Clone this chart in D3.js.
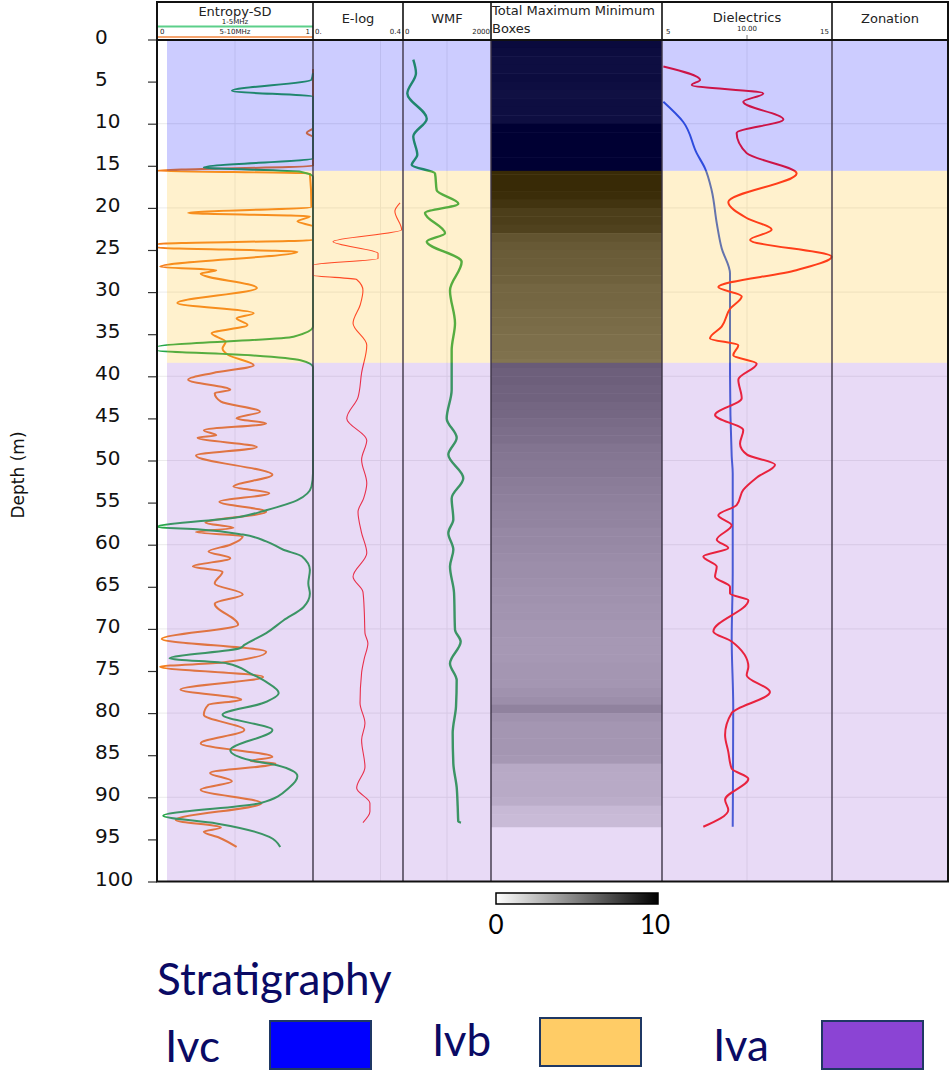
<!DOCTYPE html>
<html>
<head>
<meta charset="utf-8">
<script src="https://cdn.jsdelivr.net/npm/d3@7"></script>
<style>
  body { margin: 0; background: #fff; }
  svg { display: block; }
</style>
</head>
<body>
<svg id="chart" width="950" height="1071"></svg>
<script>
// ---------------- data ----------------
const depthTicks = d3.range(0, 101, 5);

// stratigraphic units
const unitNames = ["Ivc", "Ivb", "Iva"];
const unitTops = [0, 15.6, 38.4];
const unitBases = [15.6, 38.4, 100];

// Entropy-SD, 1-5MHz band (0..1)
const entLowDepth = [4.0, 4.8, 6.1, 6.8, 14.1, 15.2, 15.7, 16.3, 34.1, 35.3, 36.5, 36.9, 37.5, 38.1, 38.9,
  51.5, 53.1, 54.7, 55.9, 56.7, 57.9, 58.2, 58.8, 59.6, 60.6, 61.4, 63.0, 64.6, 65.8, 67.4, 69.0, 70.5,
  71.9, 72.3, 73.5, 74.1, 75.3, 76.3, 77.6, 78.8, 80.2, 82.0, 84.4, 85.6, 86.2, 87.5, 88.8, 90.7, 92.2,
  93.1, 94.7, 95.9];
const entLowValue = [1.0, 0.99, 0.48, 1.0, 1.0, 0.30, 0.92, 1.0, 1.0, 0.875, 0.0, 0.0, 0.60, 0.92, 1.0,
  1.0, 0.99, 0.90, 0.70, 0.53, 0.0, 0.275, 0.55, 0.70, 0.81, 0.93, 0.98, 0.97, 0.98, 0.94, 0.81, 0.70,
  0.56, 0.53, 0.08, 0.45, 0.60, 0.70, 0.78, 0.68, 0.42, 0.74, 0.47, 0.60, 0.77, 0.90, 0.85, 0.66, 0.04,
  0.38, 0.72, 0.79];

// Entropy-SD, 5-10MHz band (0..1)
const entHighDepth = [3.5, 10.5, 11.1, 11.6, 15.0, 15.6, 15.9, 19.9, 20.6, 21.0, 21.6, 22.2, 23.8, 24.3, 24.7,
  25.2, 27.0, 27.4, 27.8, 29.5, 31.3, 32.5, 33.1, 33.9, 34.9, 35.9, 36.7, 37.5, 38.7, 39.6, 40.4, 41.6,
  42.0, 43.0, 44.2, 45.0, 45.6, 46.4, 47.0, 47.3, 48.4, 49.4, 51.7, 53.1, 53.9, 54.9, 56.1, 57.4, 58.0,
  58.5, 59.0, 60.0, 60.8, 61.6, 62.6, 63.2, 64.6, 65.9, 67.0, 69.5, 71.2, 72.7, 74.0, 74.5, 75.7, 77.2,
  78.4, 79.0, 80.2, 82.0, 83.6, 85.2, 85.7, 86.0, 87.1, 88.1, 89.1, 90.7, 92.7, 93.6, 94.1, 94.8, 95.9];
const entHighValue = [1.0, 1.0, 0.96, 1.0, 1.0, 0.0, 0.98, 0.99, 0.20, 0.98, 0.90, 1.0, 1.0, 0.0, 0.0,
  0.90, 0.02, 0.38, 0.28, 0.64, 0.13, 0.62, 0.51, 0.58, 0.35, 0.44, 0.42, 0.46, 0.62, 0.36, 0.20, 0.47,
  0.37, 0.41, 0.66, 0.51, 0.70, 0.30, 0.38, 0.26, 0.64, 0.25, 0.74, 0.49, 0.72, 0.40, 0.70, 0.31, 0.49,
  0.25, 0.55, 0.47, 0.33, 0.47, 0.23, 0.42, 0.37, 0.55, 0.37, 0.52, 0.03, 0.70, 0.42, 0.02, 0.68, 0.15,
  0.54, 0.33, 0.30, 0.56, 0.28, 0.74, 0.60, 0.76, 0.34, 0.48, 0.28, 0.67, 0.12, 0.41, 0.30, 0.40, 0.51];

// E-log (0..0.4)
const elogDepth = [19.4, 20.4, 22.6, 24.0, 25.4, 26.0, 26.8, 28.0, 28.5, 29.8, 31.5, 33.7, 36.3, 39.6, 42.5,
  45.0, 47.6, 49.9, 52.7, 54.5, 56.1, 58.5, 61.0, 63.8, 65.6, 68.0, 70.5, 71.7, 73.5, 75.2, 78.8, 81.2,
  83.2, 86.4, 88.9, 90.7, 91.7, 93.0];
const elogValue = [0.387, 0.364, 0.394, 0.089, 0.289, 0.289, 0.0, 0.0, 0.194, 0.222, 0.21, 0.178, 0.239,
  0.216, 0.20, 0.150, 0.239, 0.216, 0.239, 0.225, 0.200, 0.215, 0.239, 0.178, 0.222, 0.228, 0.231, 0.244,
  0.228, 0.216, 0.209, 0.231, 0.216, 0.231, 0.194, 0.253, 0.253, 0.222];

// WMF (0..2000)
const wmfDepth = [2.4, 4.0, 6.4, 9.4, 11.5, 13.7, 14.9, 15.9, 17.9, 19.5, 20.6, 23.0, 24.0, 26.4, 29.8,
  33.7, 36.9, 41.6, 45.0, 47.3, 49.3, 52.1, 54.5, 57.0, 58.6, 60.6, 62.6, 65.7, 70.1, 71.5, 74.1, 76.1,
  79.2, 82.4, 86.0, 88.8, 91.1, 92.9, 93.0];
const wmfValue = [234, 295, 98, 540, 234, 325, 198, 727, 766, 1257, 500, 954, 540, 1333, 1068,
  1182, 1106, 1106, 993, 1220, 1030, 1370, 1106, 1144, 1030, 1144, 1068, 1160, 1182, 1311, 1068, 1220,
  1205, 1129, 1144, 1220, 1243, 1257, 1318];

// Dielectrics (5..15), two curves
const dielRedDepth = [3.2, 4.8, 5.4, 6.4, 7.4, 9.5, 11.1, 13.5, 15.9, 19.3, 21.2, 22.6, 23.8, 25.8, 27.4,
  29.4, 30.5, 32.0, 34.1, 35.5, 36.3, 37.5, 38.5, 40.4, 42.6, 44.6, 46.4, 48.0, 49.3, 50.5, 52.0, 53.5,
  55.3, 56.5, 57.7, 59.4, 60.4, 61.4, 62.6, 63.8, 65.0, 65.8, 66.6, 70.3, 71.5, 74.5, 75.5, 77.5, 80.0,
  82.6, 84.6, 86.6, 87.8, 90.3, 91.5, 93.5];
const dielRedValue = [5.08, 7.24, 6.75, 10.96, 9.78, 12.14, 9.39, 9.98, 12.92, 8.90, 9.98, 11.45, 10.18,
  14.98, 12.90, 8.31, 9.69, 9.00, 8.51, 7.82, 9.49, 9.19, 10.57, 9.49, 9.69, 8.12, 9.78, 9.59, 10.0,
  11.65, 10.6, 9.78, 9.39, 8.31, 9.10, 8.22, 8.90, 7.43, 8.22, 8.12, 9.00, 9.00, 10.08, 8.02, 9.10,
  10.08, 9.98, 11.35, 9.10, 8.71, 8.90, 9.10, 10.08, 8.71, 8.90, 7.43];
const dielBlueDepth = [7.4, 9.8, 13.5, 15.3, 17.9, 21.8, 24.8, 27.8, 31.7, 39.6, 49.5, 51.5, 63.4, 71.3, 79.2, 93.5];
const dielBlueValue = [5.08, 6.25, 7.04, 7.53, 7.92, 8.22, 8.51, 9.0, 9.0, 9.0, 9.1, 9.16, 9.16, 9.1, 9.19, 9.16];

// Total Maximum Minimum Boxes: one value per 1 m row starting at 0 m (0..10)
const boxValues = [9.5, 9.4, 9.3, 9.3, 9.4, 9.3, 9.2, 9.3, 9.3, 9.3,
  10, 10, 10, 10, 10, 10, 10, 10, 9.8, 9.5,
  9.0, 9.0, 8.8, 7.9, 7.6, 7.5, 7.4, 7.3, 7.2, 7.0,
  7.0, 6.9, 6.8, 6.7, 6.6, 6.5, 6.5, 6.4, 6.2, 6.0,
  6.0, 5.9, 5.9, 5.7, 5.6, 5.4, 5.3, 5.2, 5.0, 4.9,
  4.8, 4.8, 4.6, 4.5, 4.4, 4.3, 4.2, 4.2, 4.0, 4.0,
  3.9, 3.8, 3.7, 3.7, 3.6, 3.5, 3.5, 3.4, 3.4, 3.3,
  3.3, 3.2, 3.2, 3.2, 3.3, 3.3, 3.3, 3.5, 3.7, 4.3,
  3.5, 3.3, 3.3, 3.3, 3.3, 3.2, 2.4, 2.3, 2.3, 2.3,
  2.2, 1.6, 1.5, 1.5];
const boxEnd = 93.5;
const boxDomain = [0, 10];

// ---------------- layout & style ----------------
const svg = d3.select("#chart");
const edges = [157, 313, 403, 491, 662, 832, 948];
const headTop = 2, headBottom = 40;
const y = d3.scaleLinear().domain([0, 100]).range([39.5, 881.5]);
const shadeLeft = 167;
const shadeFill = ["#0000ff", "#ffbf1a", "#8b44d4"];
const shadeOpacity = [0.2, 0.22, 0.2];
const legendFill = ["#0000ff", "#ffcc66", "#8b44d4"];

const xEnt = d3.scaleLinear().domain([0, 1]).range([edges[0], edges[1]]);
const xElog = d3.scaleLinear().domain([0, 0.4]).range([edges[1], edges[2]]);
const xWmf = d3.scaleLinear().domain([0, 2000]).range([edges[2], edges[3]]);
const xDiel = d3.scaleLinear().domain([5, 15]).range([edges[4], edges[5]]);
const grey = d3.scaleLinear().domain(boxDomain).range(["#ffffff", "#000000"]);

const headFont = "'DejaVu Sans', Verdana, sans-serif";
const legendFont = "Lato, 'Open Sans', sans-serif";

svg.append("rect").attr("width", 950).attr("height", 1071).attr("fill", "#fff");

// faint grid
const grid = svg.append("g").attr("stroke", "#ebebeb").attr("stroke-width", 1);
d3.range(10, 100, 10).forEach(d => {
  grid.append("line").attr("x1", edges[0]).attr("x2", edges[6]).attr("y1", y(d)).attr("y2", y(d));
});
[xEnt(0.5), xElog(0.3), xWmf(1000), xDiel(10)].forEach(x => {
  grid.append("line").attr("x1", x).attr("x2", x).attr("y1", y(0)).attr("y2", y(100));
});

// heat column
const heat = svg.append("g");
boxValues.forEach((v, i) => {
  const top = i, bot = Math.min(i + 1, boxEnd);
  if (top >= boxEnd) return;
  heat.append("rect")
    .attr("x", edges[3]).attr("width", edges[4] - edges[3])
    .attr("y", y(top)).attr("height", y(bot) - y(top) + 0.5)
    .attr("fill", grey(v));
});

// curves
function zip(ds, vs) { return ds.map((d, i) => ({ d: d, v: vs[i] })); }
function drawCurve(ds, vs, xs, color, width) {
  const line = d3.line().x(p => xs(p.v)).y(p => y(p.d)).curve(d3.curveMonotoneY);
  svg.append("path").datum(zip(ds, vs)).attr("d", line)
    .attr("fill", "none").attr("stroke", color).attr("stroke-width", width)
    .attr("stroke-linejoin", "round");
}
drawCurve(entHighDepth, entHighValue, xEnt, "#f5801e", 2);
drawCurve(entLowDepth, entLowValue, xEnt, "#27a84a", 2);
drawCurve(elogDepth, elogValue, xElog, "#ff2a2a", 1.1);
drawCurve(wmfDepth, wmfValue, xWmf, "#27a84a", 2.4);
drawCurve(dielBlueDepth, dielBlueValue, xDiel, "#3a5fd6", 2);
drawCurve(dielRedDepth, dielRedValue, xDiel, "#ff1a1a", 2);

// stratigraphic shading
unitNames.forEach((n, i) => {
  svg.append("rect")
    .attr("x", shadeLeft).attr("width", edges[6] - shadeLeft)
    .attr("y", y(unitTops[i])).attr("height", y(unitBases[i]) - y(unitTops[i]))
    .attr("fill", shadeFill[i]).attr("fill-opacity", shadeOpacity[i]);
});

// track separators
edges.slice(1, 6).forEach(x => {
  svg.append("line").attr("x1", x).attr("x2", x).attr("y1", headBottom).attr("y2", y(100))
    .attr("stroke", "#3d3447").attr("stroke-width", 1.4);
});

// depth axis
const axis = d3.axisLeft(y).tickValues(depthTicks).tickSize(9).tickFormat(d3.format("d"));
const axG = svg.append("g").attr("transform", `translate(${edges[0]},0)`).call(axis);
axG.select(".domain").remove();
axG.selectAll(".tick line").attr("stroke", "#333").attr("stroke-width", 1.2);
axG.selectAll(".tick text")
  .attr("x", -62).attr("dy", null).attr("y", 3.5)
  .attr("text-anchor", "start")
  .style("font-family", headFont).style("font-size", "20px").attr("fill", "#111");

svg.append("text")
  .attr("transform", "translate(24,475) rotate(-90)")
  .attr("text-anchor", "middle")
  .style("font-family", headFont).style("font-size", "17px").attr("fill", "#111")
  .text("Depth (m)");

// header
const head = svg.append("g").style("font-family", headFont).attr("fill", "#222");
head.append("rect").attr("x", edges[0]).attr("y", headTop).attr("width", edges[6] - edges[0])
  .attr("height", headBottom - headTop).attr("fill", "#fff");
function headText(x, yy, size, anchor, txt) {
  head.append("text").attr("x", x).attr("y", yy).attr("text-anchor", anchor)
    .style("font-size", size + "px").text(txt);
}
const mid = i => (edges[i] + edges[i + 1]) / 2;
headText(mid(0), 16, 13, "middle", "Entropy-SD");
headText(mid(0), 23.5, 7, "middle", "1-5MHz");
head.append("line").attr("x1", edges[0]).attr("x2", edges[1]).attr("y1", 26.5).attr("y2", 26.5)
  .attr("stroke", "#5ccf8a").attr("stroke-width", 2);
headText(edges[0] + 3, 34, 7, "start", "0");
headText(mid(0), 34, 7, "middle", "5-10MHz");
headText(edges[1] - 3, 34, 7, "end", "1");
head.append("line").attr("x1", edges[0]).attr("x2", edges[1]).attr("y1", 37).attr("y2", 37)
  .attr("stroke", "#f5a46f").attr("stroke-width", 2);

headText(mid(1), 23, 13, "middle", "E-log");
headText(edges[1] + 2, 34, 7, "start", "0.");
headText(edges[2] - 2, 34, 7, "end", "0.4");

headText(mid(2), 23, 13, "middle", "WMF");
headText(edges[2] + 2, 34, 7, "start", "0");
headText(edges[3] - 1, 34, 7, "end", "2000");

headText(edges[3] + 1, 15, 13, "start", "Total Maximum Minimum");
headText(edges[3] + 1, 33, 13, "start", "Boxes");

headText(mid(4), 22, 13, "middle", "Dielectrics");
headText(edges[4] + 4, 34, 7, "start", "5");
headText(xDiel(10), 31, 7, "middle", "10.00");
headText(edges[5] - 3, 34, 7, "end", "15");
head.append("line").attr("x1", xDiel(10)).attr("x2", xDiel(10)).attr("y1", 35).attr("y2", 40)
  .attr("stroke", "#555").attr("stroke-width", 0.8);

headText(mid(5), 23, 13, "middle", "Zonation");

edges.slice(1, 6).forEach(x => {
  head.append("line").attr("x1", x).attr("x2", x).attr("y1", headTop).attr("y2", headBottom)
    .attr("stroke", "#111").attr("stroke-width", 1.6);
});

// frame
const frame = svg.append("g").attr("fill", "none").attr("stroke", "#111").attr("stroke-width", 2);
frame.append("rect").attr("x", edges[0]).attr("y", headTop)
  .attr("width", edges[6] - edges[0]).attr("height", y(100) - headTop);
frame.append("line").attr("x1", edges[0]).attr("x2", edges[6]).attr("y1", headBottom).attr("y2", headBottom);

// colour bar
const defs = svg.append("defs");
const grad = defs.append("linearGradient").attr("id", "boxScale");
grad.append("stop").attr("offset", "0%").attr("stop-color", grey(boxDomain[0]));
grad.append("stop").attr("offset", "100%").attr("stop-color", grey(boxDomain[1]));
const cb = d3.scaleLinear().domain(boxDomain).range([496, 658]);
svg.append("rect").attr("x", cb(0)).attr("y", 893).attr("width", cb(10) - cb(0)).attr("height", 11)
  .attr("fill", "url(#boxScale)").attr("stroke", "#000").attr("stroke-width", 1.5);
boxDomain.forEach(v => {
  svg.append("text").attr("x", v === 0 ? cb(v) : cb(v) - 3).attr("y", 934).attr("text-anchor", "middle")
    .style("font-family", legendFont).style("font-size", "26px").attr("fill", "#000").text(v);
});

// stratigraphy legend
const lg = svg.append("g").style("font-family", legendFont).attr("fill", "#0a0a64");
lg.append("text").attr("x", 157).attr("y", 995).style("font-size", "44px").text("Stratigraphy");
const legLabelX = [165, 432, 713];
const legLabelY = [1062, 1056, 1061];
const legBoxX = [270, 540, 822];
const legBoxY = [1021, 1018, 1021];
unitNames.forEach((n, i) => {
  lg.append("text").attr("x", legLabelX[i]).attr("y", legLabelY[i]).style("font-size", "44px").text(n);
  lg.append("rect").attr("x", legBoxX[i]).attr("y", legBoxY[i]).attr("width", 101).attr("height", 48)
    .attr("fill", legendFill[i]).attr("stroke", "#1f3864").attr("stroke-width", 2);
});
</script>
</body>
</html>
